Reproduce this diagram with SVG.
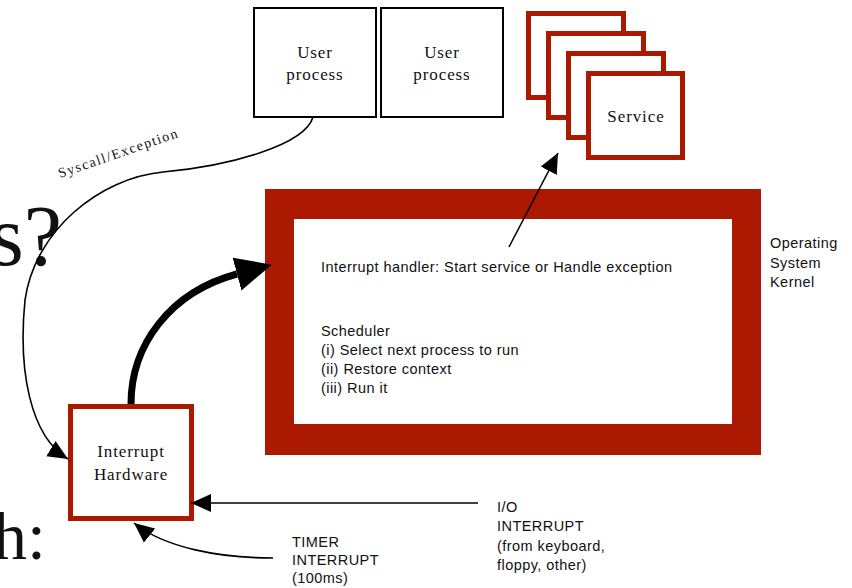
<svg xmlns="http://www.w3.org/2000/svg" width="852" height="588" viewBox="0 0 852 588">
  <style>
    .serif { font-family: "Liberation Serif", "Times New Roman", serif; fill: #111; }
    .sans { font-family: "Liberation Sans", Arial, sans-serif; fill: #111; font-size: 14.5px; letter-spacing: 0.45px; }
    .box { fill: #fff; stroke: #000; stroke-width: 2; }
    .redbox { fill: #fff; stroke: #ab1a00; stroke-width: 5; }
    .label { font-size: 17px; letter-spacing: 0.9px; text-anchor: middle; }
    .thin { fill: none; stroke: #000; stroke-width: 1.6; }
    .thick { fill: none; stroke: #000; stroke-width: 7; }
  </style>
  <defs>
    <marker id="head" markerUnits="userSpaceOnUse" viewBox="0 0 20 20" markerWidth="20" markerHeight="20" refX="20" refY="10" orient="auto">
      <path d="M0,1 L20,10 L0,19 z" fill="#000"/>
    </marker>
    <marker id="bighead" markerUnits="userSpaceOnUse" viewBox="0 0 36 36" markerWidth="36" markerHeight="36" refX="0" refY="18" orient="auto">
      <path d="M0,1 L36,18 L0,35 z" fill="#000"/>
    </marker>
  </defs>

  <rect width="852" height="588" fill="#fff"/>

  <!-- slide text left behind the diagram -->
  <text class="serif" x="62" y="265" font-size="86" text-anchor="end">s?</text>
  <text class="serif" x="46" y="559" font-size="68" text-anchor="end">h:</text>

  <!-- user processes -->
  <g id="user-process-1">
    <rect class="box" x="254" y="8" width="122" height="109"/>
    <text class="serif label" x="315" y="58">User</text>
    <text class="serif label" x="315" y="80">process</text>
  </g>
  <g id="user-process-2">
    <rect class="box" x="381" y="8" width="122" height="109"/>
    <text class="serif label" x="442" y="58">User</text>
    <text class="serif label" x="442" y="80">process</text>
  </g>

  <!-- stacked service frames -->
  <g id="service">
    <rect class="redbox" x="528.5" y="13.5" width="95" height="84"/>
    <rect class="redbox" x="548.5" y="33.5" width="95" height="84"/>
    <rect class="redbox" x="568.5" y="53.5" width="95" height="84"/>
    <rect class="redbox" x="588.5" y="73.5" width="94" height="84"/>
    <text class="serif label" x="636" y="122">Service</text>
  </g>

  <!-- operating system kernel -->
  <g id="kernel">
    <rect x="265" y="189" width="496" height="266" fill="#ab1a00"/>
    <rect x="294" y="219" width="438" height="205" fill="#fff"/>
    <text class="sans" x="321" y="272">Interrupt handler: Start service or Handle exception</text>
    <text class="sans" x="321" y="336">Scheduler</text>
    <text class="sans" x="321" y="355">(i) Select next process to run</text>
    <text class="sans" x="321" y="374">(ii) Restore context</text>
    <text class="sans" x="321" y="393">(iii) Run it</text>
  </g>
  <g id="kernel-caption">
    <text class="sans" x="770" y="248">Operating</text>
    <text class="sans" x="770" y="268">System</text>
    <text class="sans" x="770" y="287">Kernel</text>
  </g>

  <!-- interrupt hardware -->
  <g id="interrupt-hardware">
    <rect class="redbox" x="70.5" y="406.5" width="121" height="112"/>
    <text class="serif label" x="131" y="457">Interrupt</text>
    <text class="serif label" x="131" y="480">Hardware</text>
  </g>

  <!-- interrupt sources -->
  <g id="io-interrupt">
    <text class="sans" x="497" y="512">I/O</text>
    <text class="sans" x="497" y="531">INTERRUPT</text>
    <text class="sans" x="497" y="551">(from keyboard,</text>
    <text class="sans" x="497" y="570">floppy, other)</text>
  </g>
  <g id="timer-interrupt">
    <text class="sans" x="292" y="547">TIMER</text>
    <text class="sans" x="292" y="565">INTERRUPT</text>
    <text class="sans" x="292" y="583">(100ms)</text>
  </g>

  <!-- connectors -->
  <g id="connectors">
    <path class="thin" d="M313,117 C305,145 230,166 163,172 C100,178 35,230 25,300 C18,370 30,436 68,459" marker-end="url(#head)"/>
    <text class="serif" font-size="14" letter-spacing="1.5" transform="translate(60,178) rotate(-19)">Syscall/Exception</text>
    <path class="thick" d="M131,404 C131,345 170,292 237,274" marker-end="url(#bighead)"/>
    <path class="thin" d="M509,247 L558,153" marker-end="url(#head)"/>
    <path class="thin" d="M478,503 L191,503" marker-end="url(#head)"/>
    <path class="thin" d="M273,558 C220,558 165,548 134,523" marker-end="url(#head)"/>
  </g>
</svg>
